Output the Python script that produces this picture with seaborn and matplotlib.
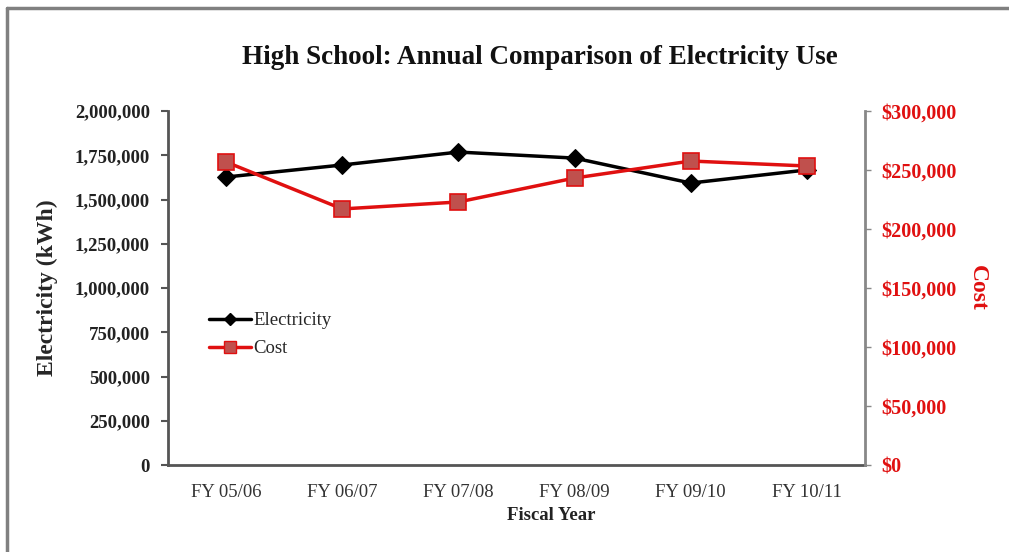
import pandas as pd
import matplotlib.pyplot as plt
import matplotlib.ticker as mticker
from matplotlib.lines import Line2D
import seaborn as sns

years = ['FY 05/06', 'FY 06/07', 'FY 07/08', 'FY 08/09', 'FY 09/10', 'FY 10/11']
electricity = [1627000, 1695000, 1768000, 1734000, 1593000, 1667000]
cost = [256800, 217000, 222900, 243200, 257600, 253400]

df = pd.DataFrame({'year': years, 'electricity': electricity, 'cost': cost})
df['pos'] = range(len(years))

sns.set_style('white')
plt.rcParams['font.family'] = ['Liberation Serif', 'DejaVu Serif']

red = '#e01010'
fig = plt.figure(figsize=(10.09, 5.52), dpi=100)
ax = fig.add_axes([168 / 1009, 1 - 465 / 552, (865 - 168) / 1009, (465 - 111) / 552])
ax2 = ax.twinx()

sns.lineplot(data=df, x='pos', y='electricity', ax=ax, color='black', linewidth=2.5,
             marker='D', markersize=9, markeredgecolor='black')
sns.lineplot(data=df, x='pos', y='cost', ax=ax2, color=red, linewidth=2.5,
             marker='s', markersize=11, markerfacecolor='#c0504d', markeredgecolor=red,
             markeredgewidth=1.2)

ax.set_xlim(-0.5, 5.5)
ax.set_ylim(0, 2000000)
ax2.set_ylim(0, 300000)
ax.set_xticks(df['pos'])
ax.set_xticklabels(years, fontsize=13.5, color='#333333')
ax.yaxis.set_major_locator(mticker.MultipleLocator(250000))
ax.yaxis.set_major_formatter(mticker.FuncFormatter(lambda v, p: f'{v:,.0f}'))
ax2.yaxis.set_major_locator(mticker.MultipleLocator(50000))
ax2.yaxis.set_major_formatter(mticker.FuncFormatter(lambda v, p: f'${v:,.0f}'))

for lab in ax.get_yticklabels():
    lab.set_fontweight('bold')
    lab.set_fontsize(13.5)
    lab.set_color('#222222')
for lab in ax2.get_yticklabels():
    lab.set_fontweight('bold')
    lab.set_fontsize(14.5)
    lab.set_color(red)

ax.tick_params(axis='y', direction='out', length=5, width=1.5, color='#555555', left=True, pad=8)
ax.tick_params(axis='x', length=0, pad=14)
ax2.tick_params(axis='y', direction='out', length=4, width=1, color='#888888', right=True, pad=8)

for a in (ax, ax2):
    a.spines['top'].set_visible(False)
ax.spines['right'].set_visible(False)
ax2.spines['left'].set_visible(False)
ax2.spines['bottom'].set_visible(False)
ax.spines['left'].set_color('#555555')
ax.spines['left'].set_linewidth(2)
ax.spines['bottom'].set_color('#555555')
ax.spines['bottom'].set_linewidth(2)
ax2.spines['right'].set_color('#888888')
ax2.spines['right'].set_linewidth(2)

ax.set_xlabel('')
ax.set_ylabel('Electricity (kWh)', fontsize=17, fontweight='bold', labelpad=12)
ax2.set_ylabel('Cost', fontsize=17, fontweight='bold', color=red, rotation=270, labelpad=22)

fig.text(551 / 1009, 1 - 516 / 552, 'Fiscal Year', ha='center', va='center',
         fontsize=13.5, fontweight='bold', color='#222222')
fig.text(540 / 1009, 1 - 58 / 552, 'High School: Annual Comparison of Electricity Use',
         ha='center', va='center', fontsize=19.5, fontweight='bold', color='#111111')

handles = [Line2D([], [], color='black', linewidth=2.5, marker='D', markersize=6),
           Line2D([], [], color=red, linewidth=2.5, marker='s', markersize=8,
                  markerfacecolor='#c0504d', markeredgecolor=red)]
ax.legend(handles, ['Electricity', 'Cost'], loc='upper left', bbox_to_anchor=(0.035, 0.48),
          frameon=False, fontsize=13.5, handlelength=2.2, handletextpad=0.15, labelspacing=0.6)

# grey border of the original chart box
fig.add_artist(Line2D([7 / 1009, 7 / 1009], [0, 1 - 8 / 552], color='#808080', linewidth=2.5))
fig.add_artist(Line2D([7 / 1009, 1], [1 - 8 / 552, 1 - 8 / 552], color='#808080', linewidth=2.5))

fig.savefig('out.png', dpi=100)
